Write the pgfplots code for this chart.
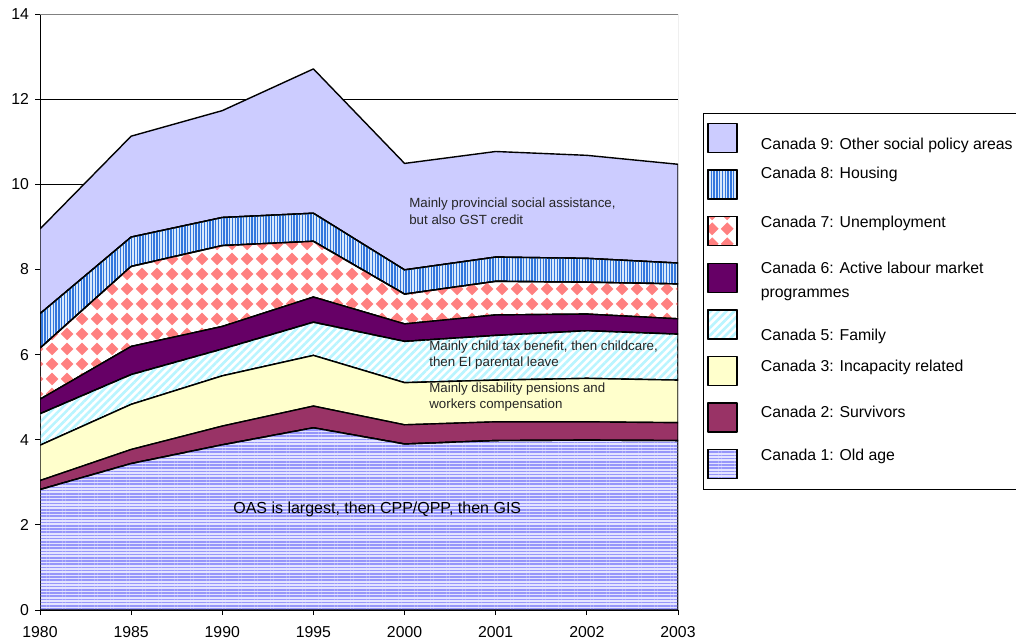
\documentclass[border=0pt]{standalone}
\usepackage{pgfplots}
\pgfplotsset{compat=1.18}
\usepackage{fontspec}
\setmainfont{Liberation Sans}
\usetikzlibrary{patterns,patterns.meta}

\definecolor{oldline}{RGB}{150,150,250}
\definecolor{oldbg}{RGB}{228,228,255}
\definecolor{survc}{RGB}{153,51,102}
\definecolor{incapc}{RGB}{255,255,204}
\definecolor{famline}{RGB}{185,245,255}
\definecolor{activec}{RGB}{102,0,102}
\definecolor{unempc}{RGB}{255,128,128}
\definecolor{housline}{RGB}{51,119,221}
\definecolor{housbg}{RGB}{215,232,252}
\definecolor{otherc}{RGB}{204,204,255}

\pgfdeclarepattern{
  name=Diamonds,
  type=uncolored,
  bottom left={\pgfpoint{0bp}{0bp}},
  top right={\pgfpoint{15bp}{15bp}},
  tile size={\pgfpoint{15bp}{15bp}},
  code={
    \pgfpathmoveto{\pgfpoint{7.5bp}{0.8bp}}
    \pgfpathlineto{\pgfpoint{14.2bp}{7.5bp}}
    \pgfpathlineto{\pgfpoint{7.5bp}{14.2bp}}
    \pgfpathlineto{\pgfpoint{0.8bp}{7.5bp}}
    \pgfpathclose
    \pgfusepath{fill}
  }
}

\begin{document}
\begin{tikzpicture}
\path[use as bounding box] (0,0) rectangle (1016bp,641bp);
\begin{axis}[
  at={(40bp,31bp)}, anchor=south west,
  scale only axis, width=638bp, height=596bp,
  xmin=0, xmax=7, ymin=0, ymax=14,
  xtick={0,...,7},
  xticklabels={1980,1985,1990,1995,2000,2001,2002,2003},
  ytick={0,2,...,14},
  separate axis lines,
  axis x line*=bottom, axis y line*=left,
  axis line style={black, line width=0.9bp},
  tick align=outside, major tick length=5bp,
  tick style={black, line width=0.9bp},
  ymajorgrids, grid style={black, line width=0.8bp},
  /pgf/number format/assume math mode=true,
  tick label style={font=\fontsize{15.8bp}{18bp}\selectfont},
  xticklabel style={yshift=-8bp},
  yticklabel style={xshift=-2.5bp},
  stack plots=y,
  every axis plot/.append style={draw=black, line width=1.4bp, line join=round},
  legend image code/.code={\draw[#1] (0bp,-14.5bp) rectangle (29bp,14.5bp);},
  reverse legend,
  legend cell align=left,
  legend style={at={(axis description cs:1.0392,0.834)}, anchor=north west,
    draw=black, line width=0.9bp, fill=white,
    inner xsep=4bp, inner ysep=9.5bp,
    row sep=16.2bp, column sep=23bp,
    nodes={inner sep=0pt},
    font=\fontsize{15.8bp}{19bp}\selectfont},
]
\addplot[fill=oldbg, postaction={pattern={Lines[angle=0,distance=3.2bp,line width=1.6bp]}, pattern color=oldline}]
  coordinates {(0,2.83) (1,3.44) (2,3.88) (3,4.28) (4,3.90) (5,3.98) (6,3.99) (7,3.98)} \closedcycle;
\addlegendentry{\smash{\raisebox{3.25bp}{Canada 1: Old age}}}
\addplot[fill=survc]
  coordinates {(0,0.21) (1,0.33) (2,0.44) (3,0.51) (4,0.45) (5,0.44) (6,0.43) (7,0.42)} \closedcycle;
\addlegendentry{\smash{\raisebox{-0.75bp}{Canada 2: Survivors}}}
\addplot[fill=incapc]
  coordinates {(0,0.83) (1,1.06) (2,1.18) (3,1.19) (4,0.99) (5,0.98) (6,1.02) (7,1.00)} \closedcycle;
\addlegendentry{\smash{\raisebox{-0.75bp}{Canada 3: Incapacity related}}}
\addplot[fill=white, postaction={pattern={Lines[angle=45,distance=5.5bp,line width=2.6bp]}, pattern color=famline}]
  coordinates {(0,0.74) (1,0.70) (2,0.63) (3,0.78) (4,0.97) (5,1.05) (6,1.12) (7,1.08)} \closedcycle;
\addlegendentry{\smash{\raisebox{-16.75bp}{Canada 5: Family}}}
\addplot[fill=activec]
  coordinates {(0,0.34) (1,0.66) (2,0.53) (3,0.59) (4,0.41) (5,0.48) (6,0.39) (7,0.36)} \closedcycle;
\addlegendentry{\smash{\raisebox{3.25bp}{\vtop{\baselineskip=24bp\hbox{Canada 6: Active labour market}\hbox{programmes}}}}}
\addplot[fill=white, postaction={pattern=Diamonds, pattern color=unempc}]
  coordinates {(0,1.20) (1,1.88) (2,1.90) (3,1.31) (4,0.70) (5,0.79) (6,0.75) (7,0.82)} \closedcycle;
\addlegendentry{\smash{\raisebox{3.25bp}{Canada 7: Unemployment}}}
\addplot[fill=housbg, postaction={pattern={Lines[angle=90,distance=2.8bp,line width=1.4bp]}, pattern color=housline}]
  coordinates {(0,0.81) (1,0.69) (2,0.66) (3,0.66) (4,0.57) (5,0.57) (6,0.56) (7,0.49)} \closedcycle;
\addlegendentry{\smash{\raisebox{5.25bp}{Canada 8: Housing}}}
\addplot[fill=otherc]
  coordinates {(0,1.99) (1,2.37) (2,2.51) (3,3.39) (4,2.50) (5,2.48) (6,2.42) (7,2.32)} \closedcycle;
\addlegendentry{\smash{\raisebox{-11.75bp}{Canada 9: Other social policy areas}}}

\draw[gray, line width=0.9bp] (rel axis cs:0,1) -- (rel axis cs:1,1) -- (rel axis cs:1,0);
\coordinate (oas) at (axis cs:3.70,2.37);
\coordinate (prov) at (axis cs:4.05,9.36);
\coordinate (child) at (axis cs:4.27,5.99);
\coordinate (disab) at (axis cs:4.27,5.00);
\end{axis}
\node[font=\fontsize{16bp}{19bp}\selectfont, inner sep=0pt, text=black] at (oas) {OAS is largest, then CPP/QPP, then GIS};
\node[anchor=west, align=left, inner sep=0pt, text=black!85, font=\fontsize{13.3bp}{16.7bp}\selectfont] at (prov) {Mainly provincial social assistance,\\but also GST credit};
\node[anchor=west, align=left, inner sep=0pt, text=black!85, font=\fontsize{13.3bp}{16.7bp}\selectfont] at (child) {Mainly child tax benefit, then childcare,\\then EI parental leave};
\node[anchor=west, align=left, inner sep=0pt, text=black!85, font=\fontsize{13.3bp}{16.7bp}\selectfont] at (disab) {Mainly disability pensions and\\workers compensation};
\end{tikzpicture}
\end{document}
